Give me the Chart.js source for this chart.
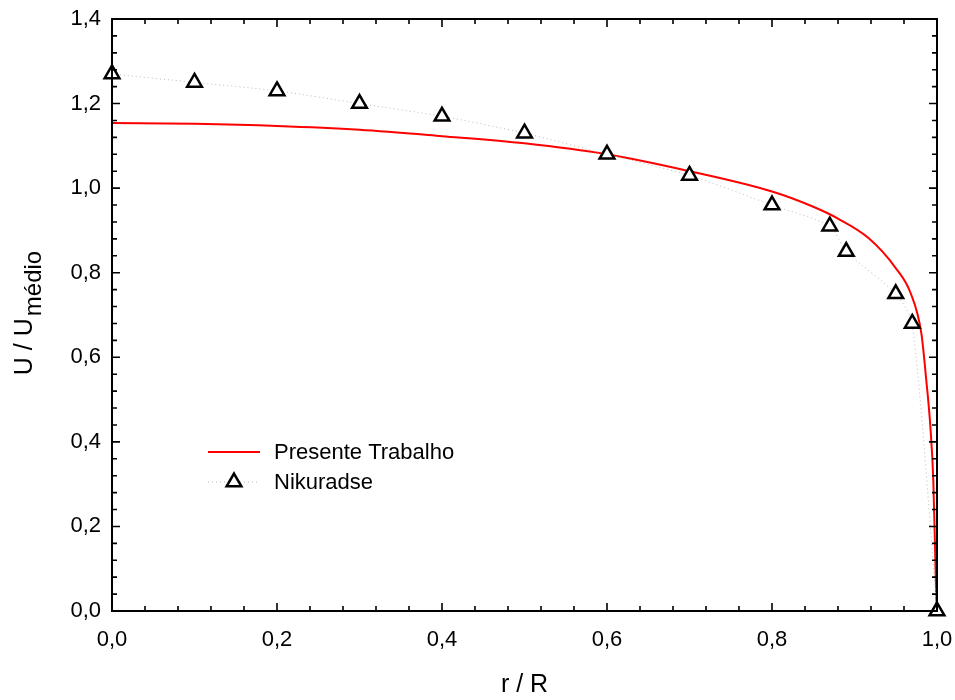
<!DOCTYPE html>
<html>
<head>
<meta charset="utf-8">
<script src="https://cdn.jsdelivr.net/npm/chart.js@4/dist/chart.umd.min.js"></script>
<style>
html,body{margin:0;padding:0;background:#fff;}
#c{display:block;}
</style>
</head>
<body>
<canvas id="c" width="955" height="700"></canvas>
<script>
// ---- data ----
const presenteX = [0, 0.1, 0.2, 0.3, 0.4, 0.5, 0.6, 0.7, 0.8, 0.85, 0.88, 0.917, 0.95, 0.968, 0.981, 0.987, 0.992, 0.9955, 0.9975, 0.999, 1.0];
const presenteY = [1.154, 1.152, 1.147, 1.138, 1.123, 1.106, 1.080, 1.040, 0.992, 0.956, 0.928, 0.882, 0.811, 0.752, 0.657, 0.546, 0.435, 0.31, 0.16, 0.04, 0.0];
const nikuradseX = [0, 0.1, 0.2, 0.3, 0.4, 0.5, 0.6, 0.7, 0.8, 0.87, 0.89, 0.95, 0.97, 1.0];
const nikuradseY = [1.27, 1.25, 1.23, 1.20, 1.17, 1.13, 1.08, 1.03, 0.96, 0.91, 0.85, 0.75, 0.68, 0.0];
const seriesLabels = ['Presente Trabalho', 'Nikuradse'];
const xTitle = 'r / R';
const yTitleMain = 'U / U';
const yTitleSub = 'médio';

const FONT = '"Liberation Sans", Arial, sans-serif';
const fmt = v => Number(v).toFixed(1).replace('.', ',');

const framePlugin = {
  id: 'frame',
  afterDraw(chart) {
    const {ctx, chartArea: a, scales: {x, y}} = chart;
    ctx.save();
    ctx.strokeStyle = '#000';
    ctx.lineWidth = 2;
    ctx.strokeRect(a.left, a.top, a.right - a.left, a.bottom - a.top);
    ctx.lineWidth = 1.6;
    ctx.beginPath();
    for (let i = 0; i <= 25; i++) {
      const px = x.getPixelForValue(i * 0.04);
      const len = (i % 5 === 0) ? 8 : 5;
      ctx.moveTo(px, a.bottom); ctx.lineTo(px, a.bottom - len);
      ctx.moveTo(px, a.top); ctx.lineTo(px, a.top + len);
    }
    for (let i = 0; i <= 35; i++) {
      const py = y.getPixelForValue(i * 0.04);
      const len = (i % 5 === 0) ? 8 : 5;
      ctx.moveTo(a.left, py); ctx.lineTo(a.left + len, py);
      ctx.moveTo(a.right, py); ctx.lineTo(a.right - len, py);
    }
    ctx.stroke();

    // y axis title with subscript
    ctx.fillStyle = '#000';
    ctx.textBaseline = 'alphabetic';
    ctx.textAlign = 'left';
    ctx.font = '25px ' + FONT;
    const wMain = ctx.measureText(yTitleMain).width;
    ctx.font = '24px ' + FONT;
    const wSub = ctx.measureText(yTitleSub).width;
    const gap = 2;
    const total = wMain + gap + wSub;
    const cy = 313;
    ctx.translate(32, cy + total / 2);
    ctx.rotate(-Math.PI / 2);
    ctx.font = '25px ' + FONT;
    ctx.fillText(yTitleMain, 0, 0);
    ctx.font = '24px ' + FONT;
    ctx.fillText(yTitleSub, wMain + gap, 9);
    ctx.restore();

    // legend
    ctx.save();
    const ds = chart.data.datasets;
    const lx0 = 208, lx1 = 260, tx = 274;
    const rows = [452, 482];
    ctx.font = '22px ' + FONT;
    ctx.textBaseline = 'middle';
    ctx.fillStyle = '#000';
    ctx.strokeStyle = ds[1].borderColor;
    ctx.lineWidth = 2;
    ctx.beginPath(); ctx.moveTo(lx0, rows[0]); ctx.lineTo(lx1, rows[0]); ctx.stroke();
    ctx.fillText(ds[1].label, tx, rows[0] + 1);
    ctx.strokeStyle = ds[0].borderColor;
    ctx.lineWidth = 1;
    ctx.setLineDash([1, 3]);
    ctx.beginPath(); ctx.moveTo(lx0, rows[1]); ctx.lineTo(lx1, rows[1]); ctx.stroke();
    ctx.setLineDash([]);
    const r = 8.5, cx = (lx0 + lx1) / 2, cyy = rows[1];
    ctx.beginPath();
    ctx.moveTo(cx, cyy - r);
    ctx.lineTo(cx + r * Math.sin(2 * Math.PI / 3), cyy - r * Math.cos(2 * Math.PI / 3));
    ctx.lineTo(cx + r * Math.sin(4 * Math.PI / 3), cyy - r * Math.cos(4 * Math.PI / 3));
    ctx.closePath();
    ctx.fillStyle = '#fff'; ctx.fill();
    ctx.strokeStyle = '#000'; ctx.lineWidth = 2.5; ctx.stroke();
    ctx.fillStyle = '#000';
    ctx.fillText(ds[0].label, tx, rows[1] + 1);
    ctx.restore();
  }
};

new Chart(document.getElementById('c'), {
  type: 'line',
  data: {
    datasets: [
      {
        label: seriesLabels[1],
        data: nikuradseX.map((v, i) => ({x: v, y: nikuradseY[i]})),
        borderColor: '#b8b8b8',
        borderWidth: 1,
        borderDash: [1, 3],
        tension: 0.25,
        pointStyle: 'triangle',
        pointRadius: 8.5,
        pointBorderWidth: 2.5,
        pointBorderColor: '#000',
        pointBackgroundColor: '#fff',
        clip: false,
        order: 0
      },
      {
        label: seriesLabels[0],
        data: presenteX.map((v, i) => ({x: v, y: presenteY[i]})),
        borderColor: '#ff0000',
        borderWidth: 2,
        cubicInterpolationMode: 'monotone',
        pointRadius: 0,
        clip: false,
        order: 1
      }
    ]
  },
  options: {
    responsive: false,
    animation: false,
    layout: {padding: {left: 0, top: 19, right: 18, bottom: 0}},
    plugins: {legend: {display: false}, tooltip: {enabled: false}},
    scales: {
      x: {
        type: 'linear', min: 0, max: 1,
        grid: {display: false, drawTicks: false},
        border: {display: false},
        ticks: {stepSize: 0.2, padding: 16, color: '#000', font: {family: FONT, size: 22}, callback: v => fmt(v), maxRotation: 0},
        title: {display: true, text: xTitle, color: '#000', font: {family: FONT, size: 25}, padding: 0},
        afterFit: s => { s.height = 89; s.paddingLeft = 0; s.paddingRight = 0; }
      },
      y: {
        type: 'linear', min: 0, max: 1.4,
        grid: {display: false, drawTicks: false},
        border: {display: false},
        ticks: {stepSize: 0.2, padding: 11, color: '#000', font: {family: FONT, size: 22}, callback: v => fmt(v)},
        afterFit: s => { s.width = 112; s.paddingTop = 0; s.paddingBottom = 0; }
      }
    }
  },
  plugins: [framePlugin]
});
</script>
</body>
</html>
